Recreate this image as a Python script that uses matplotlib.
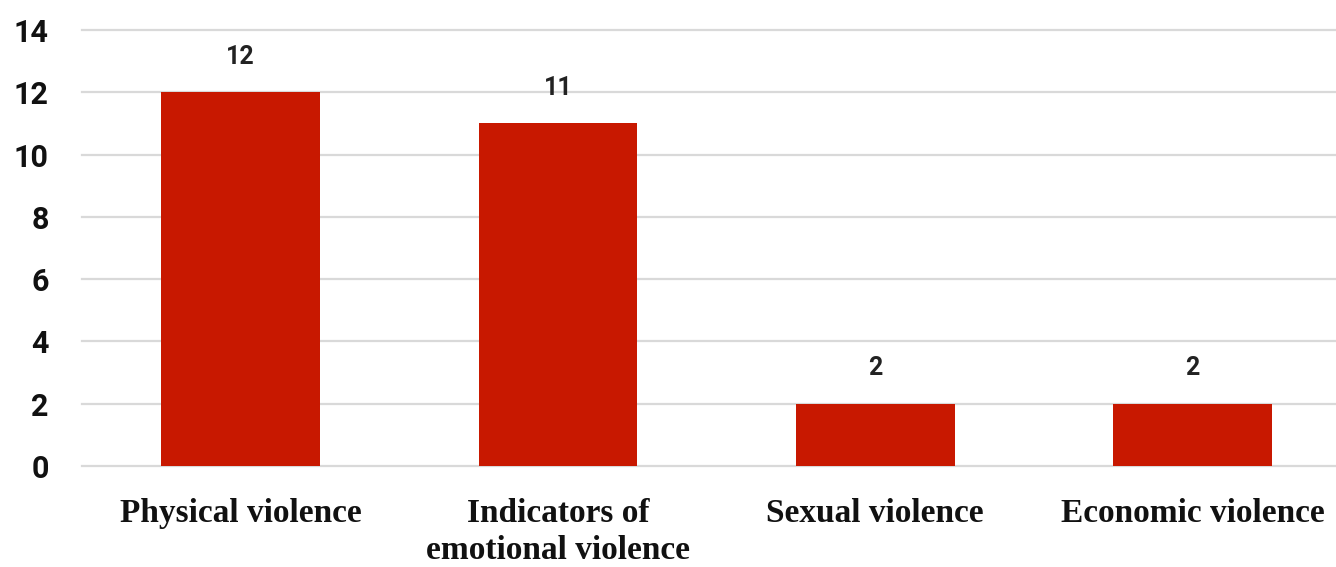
import matplotlib.pyplot as plt

categories = ["Physical violence", "Indicators of\nemotional violence", "Sexual violence", "Economic violence"]
counts = [12, 11, 2, 2]
y_ticks = [0, 2, 4, 6, 8, 10, 12, 14]

BAR = "#c81800"
GRID = "#d9d9d9"
INK = "#222222"

fig = plt.figure(figsize=(13.36, 5.67), dpi=100)
ax = fig.add_axes([0.0614, 0.178, 0.95, 0.769])

x = list(range(len(categories)))
ax.bar(x, counts, width=0.5, color=BAR, zorder=3)
for xi, v in zip(x, counts):
    ax.annotate(str(v), xy=(xi, v), xytext=(0, 17), textcoords="offset points",
                ha="center", va="bottom", fontsize=18, fontweight="bold",
                family="Roboto", color=INK)

ax.set_xlim(-0.5, 3.5)
ax.set_ylim(0, 14)
ax.set_yticks(y_ticks)
ax.set_yticklabels([str(t) for t in y_ticks], fontsize=22, fontweight="bold", family="Roboto", color="#111111")
ax.set_xticks(x)
ax.set_xticklabels(categories, fontsize=24, fontweight="bold", family="Liberation Serif", color="#111111",
                   linespacing=1.25)
ax.tick_params(axis="y", length=0, pad=24)
ax.tick_params(axis="x", length=0, pad=23)
for s in ax.spines.values():
    s.set_visible(False)
ax.yaxis.grid(True, color=GRID, linewidth=1.6, zorder=0)
for gl in ax.yaxis.get_gridlines():
    gl.set_clip_on(False)
ax.set_axisbelow(True)

fig.savefig("out.png", dpi=100)
